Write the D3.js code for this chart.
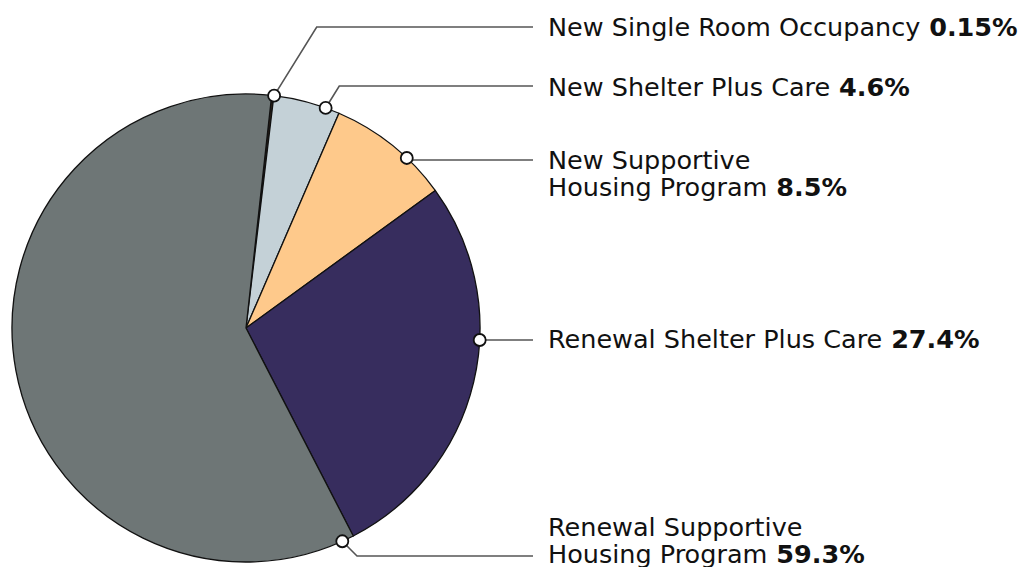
<!DOCTYPE html>
<html>
<head>
<meta charset="utf-8">
<script src="https://cdnjs.cloudflare.com/ajax/libs/d3/7.8.5/d3.min.js"></script>
<style>
  body { margin: 0; background: #fff; }
  svg { display: block; }
</style>
</head>
<body>
<script>
// slice data, clockwise from the top
var names = ["New Single Room Occupancy", "New Shelter Plus Care", "New Supportive Housing Program",
             "Renewal Shelter Plus Care", "Renewal Supportive Housing Program"];
var values = [0.15, 4.6, 8.5, 27.4, 59.3];
var colors = ["#3b2b1e", "#c4d1d7", "#fec98b", "#372d5e", "#6e7676"];
// label text lines (last line gets the bold value)
var labelLines = [["New Single Room Occupancy"], ["New Shelter Plus Care"], ["New Supportive", "Housing Program"],
                  ["Renewal Shelter Plus Care"], ["Renewal Supportive", "Housing Program"]];

// layout of the callouts: dot angle on the rim (deg), leader y, first baseline
var dotAngle = [6.9, 19.9, 43.4, 92.9, 155.7];
var leaderY = [27, 86, 160, 340, 556];
var textY = [36, 96, 169, 348, 536];

var width = 1022, height = 567;
var cx = 246, cy = 328, r = 234;
var startDeg = 6.3;
var textX = 548, lineEnd = 533, lineH = 27;
var font = "DejaVu Sans, Verdana, sans-serif";

var svg = d3.select("body").append("svg").attr("width", width).attr("height", height);

var pie = d3.pie().sort(null).value(function (d) { return d; })
    .startAngle(startDeg * Math.PI / 180)
    .endAngle(startDeg * Math.PI / 180 + 2 * Math.PI);
var arc = d3.arc().innerRadius(0).outerRadius(r);

var g = svg.append("g").attr("transform", "translate(" + cx + "," + cy + ")");

g.selectAll(".slice").data(pie(values)).enter().append("path")
    .attr("d", arc)
    .attr("fill", function (d, i) { return colors[i]; })
    .attr("stroke", "#111")
    .attr("stroke-width", 1.3)
    .attr("stroke-linejoin", "round");

function rim(deg) {
    var a = deg * Math.PI / 180;
    return [cx + r * Math.sin(a), cy - r * Math.cos(a)];
}

// leader lines
values.forEach(function (v, i) {
    var p = rim(dotAngle[i]);
    var pts = [p];
    var dy = leaderY[i] - p[1];
    if (Math.abs(dy) > 2) {
        // diagonal leg to the leader height, then horizontal
        var ex = p[0] + Math.abs(dy) * (i < 2 ? 0.62 : 1.0);
        pts.push([ex, leaderY[i]]);
    } else {
        pts[0] = [p[0], leaderY[i]];
    }
    pts.push([lineEnd, leaderY[i]]);
    svg.append("path")
        .attr("d", d3.line()(pts))
        .attr("fill", "none")
        .attr("stroke", "#555")
        .attr("stroke-width", 1.6);
});

// dots
svg.selectAll(".dot").data(dotAngle).enter().append("circle")
    .attr("cx", function (d) { return rim(d)[0]; })
    .attr("cy", function (d, i) { return Math.abs(leaderY[i] - rim(d)[1]) > 2 ? rim(d)[1] : leaderY[i]; })
    .attr("r", 6)
    .attr("fill", "#fff")
    .attr("stroke", "#111")
    .attr("stroke-width", 1.8);

// labels
labelLines.forEach(function (lines, i) {
    lines.forEach(function (s, j) {
        var t = svg.append("text")
            .attr("x", textX)
            .attr("y", textY[i] + j * lineH)
            .attr("font-family", font)
            .attr("font-size", 25.5)
            .attr("fill", "#111");
        t.append("tspan").text(s);
        if (j === lines.length - 1) {
            t.append("tspan").attr("font-weight", "bold").text(" " + values[i] + "%");
        }
    });
});
</script>
</body>
</html>
